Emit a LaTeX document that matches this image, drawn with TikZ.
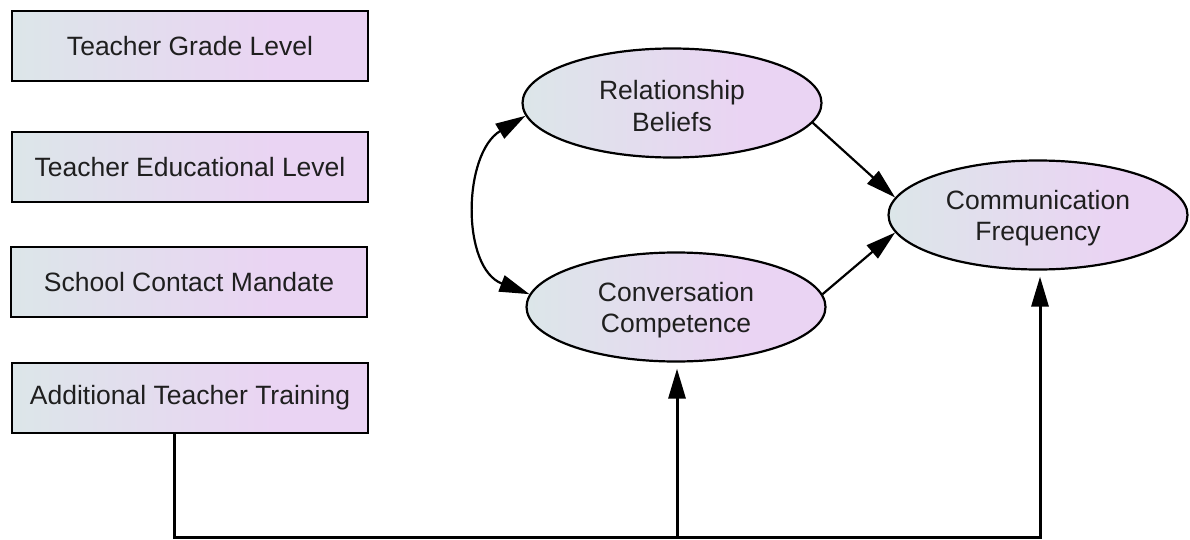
\documentclass[tikz,border=0pt]{standalone}
\usepackage{fontspec}
\setmainfont{Liberation Sans}
\usetikzlibrary{arrows.meta,shapes.geometric}

\definecolor{shadeL}{HTML}{DCE6E9}
\definecolor{shadeR}{HTML}{EAD4F3}
% left-to-right fill used by every variable
\pgfdeclarehorizontalshading{fillgrad}{100bp}{color(0bp)=(shadeL); color(25bp)=(shadeL); color(62bp)=(shadeR); color(100bp)=(shadeR)}
% extra room above the first line of a two-line label
\newcommand{\toppad}{\rule{0pt}{25.5pt}}

\begin{document}
\begin{tikzpicture}[x=1pt,y=-1pt,
  lbl/.style={font=\fontsize{26.5}{31.8}\selectfont, align=center, text=black!88, inner sep=0pt},
  varbox/.style={lbl, rectangle, draw, line width=2.6pt, shading=fillgrad, minimum width=356pt, minimum height=70pt},
  latent/.style={lbl, ellipse, draw, line width=2.2pt, shading=fillgrad, minimum width=299pt, minimum height=109pt},
  tip/.style={-{Triangle[length=30pt,width=17pt]}},
  effect/.style={tip, line width=2.2pt},
  conn/.style={tip, line width=3pt, line join=miter},
  corr/.style={{Triangle[length=30pt,width=17pt]}-{Triangle[length=30pt,width=17pt]}, line width=2.2pt}
]
\useasboundingbox (0,0) rectangle (1190,540);

% observed covariates
\node[varbox] (tgl) at (190,46)  {Teacher Grade Level};
\node[varbox] (tel) at (190,167) {Teacher Educational Level};
\node[varbox] (scm) at (189,282) {School Contact Mandate};
\node[varbox] (atb) at (190,398) {Additional Teacher Training};

% latent constructs
\node[latent] (rb) at (672,103) {\toppad Relationship\\Beliefs};
\node[latent] (cc) at (676,307) {\toppad Conversation\\Competence};
\node[latent] (cf) at (1038,215) {\toppad Communication\\Frequency};

% covariance between the two predictors
\draw[corr] (rb.185) to[out=211, in=159, looseness=1.05] (cc.175);

% direct effects on the outcome
\draw[effect] (rb.-8) -- (cf.173);
\draw[effect] (cc.5) -- (cf.187);

% training feeds both competence and frequency
\coordinate (jl) at (174,537);
\coordinate (jm) at (677,537);
\coordinate (jr) at (1040,537);
\draw[conn, shorten >=6pt] (atb.south -| jl) -- (jl) -- (jr) -- (cf.south -| jr);
\draw[conn, shorten >=6pt] (jm) -- (cc.south -| jm);
\end{tikzpicture}
\end{document}
